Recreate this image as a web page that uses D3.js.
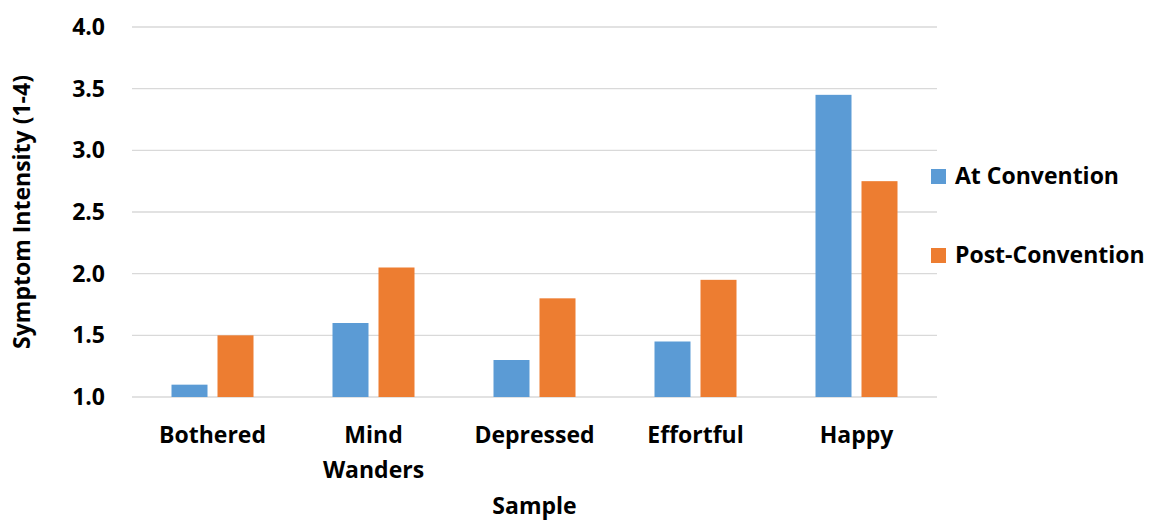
<!DOCTYPE html>
<html>
<head>
<meta charset="utf-8">
<script src="https://cdn.jsdelivr.net/npm/d3@7"></script>
<style>
  body { margin: 0; background: #fff; }
  text { font-family: "Open Sans", "Liberation Sans", sans-serif; font-weight: bold; fill: #000; }
</style>
</head>
<body>
<script>
// chart data
var categories = [["Bothered"], ["Mind", "Wanders"], ["Depressed"], ["Effortful"], ["Happy"]];
var seriesNames = ["At Convention", "Post-Convention"];
var atConvention = [1.1, 1.6, 1.3, 1.45, 3.45];
var postConvention = [1.5, 2.05, 1.8, 1.95, 2.75];
var yTicks = [1.0, 1.5, 2.0, 2.5, 3.0, 3.5, 4.0];
var colors = ["#5b9bd5", "#ed7d31"];

var W = 1159, H = 521;
var plotLeft = 132, plotRight = 937, plotTop = 27, plotBottom = 397;
var fs = "23px";

var svg = d3.select("body").append("svg")
  .attr("width", W)
  .attr("height", H);

var x = d3.scaleBand().domain(d3.range(categories.length)).range([plotLeft, plotRight]);
var y = d3.scaleLinear().domain([1, 4]).range([plotBottom, plotTop]);

// gridlines
svg.selectAll(".grid")
  .data(yTicks)
  .enter()
  .append("line")
  .attr("x1", plotLeft)
  .attr("x2", plotRight)
  .attr("y1", function(d) { return y(d); })
  .attr("y2", function(d) { return y(d); })
  .attr("stroke", "#d9d9d9")
  .attr("stroke-width", 1.3);

// y tick labels
svg.selectAll(".ytick")
  .data(yTicks)
  .enter()
  .append("text")
  .attr("x", 105)
  .attr("y", function(d) { return y(d); })
  .attr("dy", "0.35em")
  .attr("text-anchor", "end")
  .style("font-size", fs)
  .text(function(d) { return d3.format(".1f")(d); });

// bars
var barW = 36, gap = 10;
var series = [atConvention, postConvention];
series.forEach(function(vals, s) {
  svg.selectAll(".bar" + s)
    .data(vals)
    .enter()
    .append("rect")
    .attr("x", function(d, i) {
      var c = x(i) + x.bandwidth() / 2;
      return s === 0 ? c - gap / 2 - barW : c + gap / 2;
    })
    .attr("y", function(d) { return y(d); })
    .attr("width", barW)
    .attr("height", function(d) { return y(1) - y(d); })
    .attr("fill", colors[s]);
});

// category labels
var cat = svg.selectAll(".cat")
  .data(categories)
  .enter()
  .append("text")
  .attr("text-anchor", "middle")
  .attr("transform", function(d, i) {
    return "translate(" + (x(i) + x.bandwidth() / 2) + ",443)";
  })
  .style("font-size", fs);
cat.selectAll("tspan")
  .data(function(d) { return d; })
  .enter()
  .append("tspan")
  .attr("x", 0)
  .attr("dy", function(d, j) { return j === 0 ? 0 : 35; })
  .text(function(d) { return d; });

// axis titles
svg.append("text")
  .attr("x", (plotLeft + plotRight) / 2)
  .attr("y", 514)
  .attr("text-anchor", "middle")
  .style("font-size", fs)
  .text("Sample");

svg.append("text")
  .attr("transform", "translate(30," + ((plotTop + plotBottom) / 2) + ") rotate(-90)")
  .attr("text-anchor", "middle")
  .style("font-size", fs)
  .text("Symptom Intensity (1-4)");

// legend
var legend = svg.selectAll(".legend")
  .data(seriesNames)
  .enter()
  .append("g")
  .attr("transform", function(d, i) { return "translate(931," + (176 + i * 79) + ")"; });

legend.append("rect")
  .attr("x", 0)
  .attr("y", -7)
  .attr("width", 15)
  .attr("height", 15)
  .attr("fill", function(d, i) { return colors[i]; });

legend.append("text")
  .attr("x", 24)
  .attr("dy", "0.35em")
  .style("font-size", fs)
  .text(function(d) { return d; });
</script>
</body>
</html>
